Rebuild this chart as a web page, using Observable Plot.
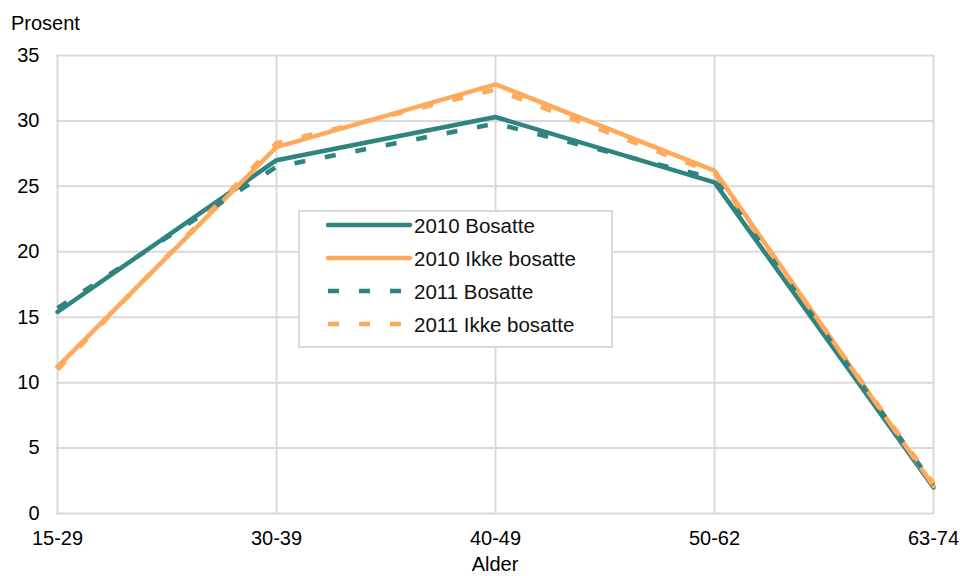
<!DOCTYPE html>
<html><head><meta charset="utf-8">
<script src="https://cdn.jsdelivr.net/npm/d3@7"></script>
<script src="https://cdn.jsdelivr.net/npm/@observablehq/plot@0.6"></script>
<style>
body{margin:0;background:#fff;font-family:"Liberation Sans",Arial,sans-serif;}
#wrap{position:relative;width:963px;height:576px;}
.lbl{position:absolute;font-size:20px;line-height:1.1;color:#000;white-space:nowrap;}
#legend{position:absolute;left:298px;top:210px;}
</style></head>
<body><div id="wrap"></div>
<script>
const ages = ["15-29","30-39","40-49","50-62","63-74"];
const bosatte2010 = [15.4, 27.0, 30.3, 25.3, 2.0];
const ikke2010 = [11.2, 28.0, 32.8, 26.2, 2.1];
const bosatte2011 = [15.7, 26.5, 29.8, 25.6, 2.2];
const ikke2011 = [11.0, 28.3, 32.4, 26.0, 2.3];
const yTicks = [0,5,10,15,20,25,30,35];
const seriesNames = ["2010 Bosatte","2010 Ikke bosatte","2011 Bosatte","2011 Ikke bosatte"];
const teal = "#2f8480", orange = "#ffa95a";

const rows = (vals, s) => ages.map((a,i)=>({age:a, value:vals[i], series:s}));
const d1 = rows(bosatte2010, seriesNames[0]);
const d2 = rows(ikke2010, seriesNames[1]);
const d3s = rows(bosatte2011, seriesNames[2]);
const d4 = rows(ikke2011, seriesNames[3]);

const chart = Plot.plot({
  width: 963, height: 576,
  marginLeft: 56, marginRight: 29, marginTop: 55, marginBottom: 63,
  style: {fontFamily: '"Liberation Sans", Arial, sans-serif', fontSize: "20px", color: "#000", background: "#fff"},
  x: {type: "point", domain: ages, padding: 0, label: null},
  y: {domain: [0,35], label: null},
  marks: [
    Plot.gridX(ages, {stroke: "#d9d9d9", strokeOpacity: 1, strokeWidth: 2}),
    Plot.gridY(yTicks, {stroke: "#d9d9d9", strokeOpacity: 1, strokeWidth: 2}),
    Plot.axisY(yTicks, {tickSize: 0, tickPadding: 17, label: null, fontSize: 20}),
    Plot.axisX(ages, {tickSize: 0, tickPadding: 17, label: null, fontSize: 20}),
    Plot.line(d1, {x: "age", y: "value", stroke: teal, strokeWidth: 4.5}),
    Plot.line(d2, {x: "age", y: "value", stroke: orange, strokeWidth: 4.5}),
    Plot.line(d3s, {x: "age", y: "value", stroke: teal, strokeWidth: 4.5, strokeDasharray: "11,20", strokeLinecap: "butt"}),
    Plot.line(d4, {x: "age", y: "value", stroke: orange, strokeWidth: 4.5, strokeDasharray: "11,20", strokeLinecap: "butt"})
  ]
});
const wrap = document.getElementById("wrap");
wrap.appendChild(chart);

function addLabel(text, left, top){
  const d = document.createElement("div"); d.className="lbl"; d.textContent=text;
  d.style.left=left+"px"; d.style.top=top+"px"; wrap.appendChild(d);
  return d;
}
addLabel("Prosent", 11, 12);
const alder = addLabel("Alder", 0, 553);
alder.style.width="990px"; alder.style.textAlign="center";

const styles = [[teal,null],[orange,null],[teal,"11,20"],[orange,"11,20"]];
const lineYs = [15, 48, 81, 114];
let svg = `<svg id="lg" width="316" height="139" xmlns="http://www.w3.org/2000/svg">
<rect x="1" y="1" width="313" height="136" fill="#fff" stroke="#d9d9d9" stroke-width="2"/>`;
seriesNames.forEach((n,i)=>{
  const [c,dash] = styles[i]; const y = lineYs[i];
  svg += `<line x1="30" x2="${dash?104:112}" y1="${y}" y2="${y}" stroke="${c}" stroke-width="4.5" stroke-linecap="${dash?'butt':'round'}" ${dash?`stroke-dasharray="${dash}"`:""}/>`;
  svg += `<text x="116" y="${y+8}" font-family="Liberation Sans, Arial, sans-serif" font-size="20.5" fill="#111">${n}</text>`;
});
svg += `</svg>`;
const lg = document.createElement("div"); lg.id="legend"; lg.innerHTML = svg; wrap.appendChild(lg);
</script></body></html>
